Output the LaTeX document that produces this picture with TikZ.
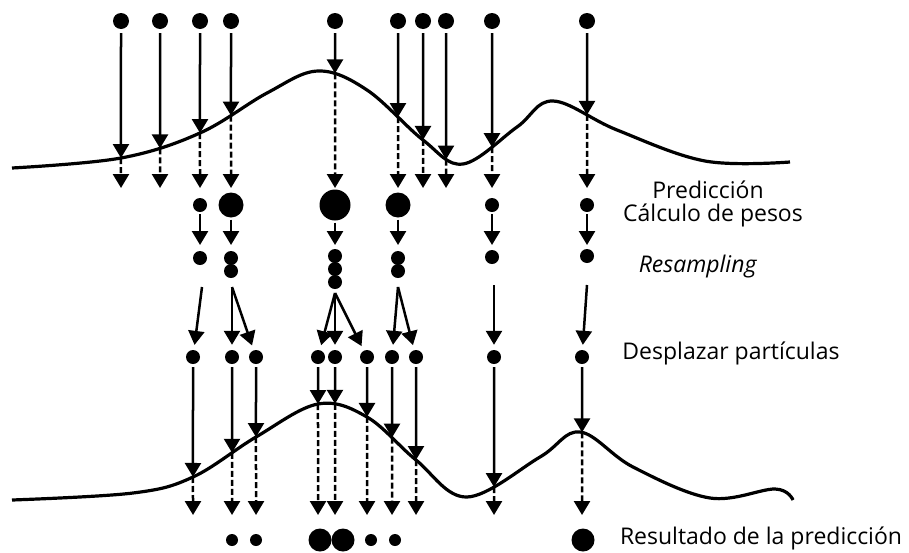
\documentclass[tikz,border=0pt]{standalone}
\usepackage{fontspec}
\setmainfont{Open Sans}
\usetikzlibrary{arrows.meta,intersections}

\begin{document}
\begin{tikzpicture}[x=1pt,y=-1pt,>={Triangle[length=14pt,width=16pt]},
		line join=round, font=\fontsize{23}{26}\selectfont,
		part/.style={circle,fill,inner sep=0pt,minimum size=#1}, part/.default=14pt,
		move/.style={->,line width=2.5pt},
		dashmove/.style={->,line width=2.5pt,dash pattern=on 6pt off 3pt},
		curve/.style={line width=3.2pt}]
	\useasboundingbox (0,0) rectangle (909,552);
	% densidad (arriba y abajo)
	\draw[curve,name path=upper] plot[smooth,tension=0.6] coordinates {(12,168) (121,158) (200,133) (267,93) (318,71) (367,90) (423,140) (463,164) (517,127) (553,101) (617,130) (705,161) (790,162)};
	\draw[curve,name path=lower] plot[smooth,tension=0.6] coordinates {(12,500) (133,493) (193,477) (256,437) (318,404) (367,417) (416,460) (467,497) (540,457) (580,432) (633,467) (710,498) (775,489) (793,500)};
	% particulas iniciales -> prediccion
	\foreach \x [count=\i] in {121,160,200,231,335,398,423,446,492,587}{
		\node[part=16pt] (t\i) at (\x,21) {};
		\path[name path=v\i] (\x,0) -- (\x,250);
		\path[name intersections={of=upper and v\i, by=u\i}];
		\coordinate (e\i) at (\x,188);
		\draw[move,shorten <=4pt] (t\i) -- (u\i);
		\draw[dashmove] (u\i) -- (e\i);
	}
	% calculo de pesos
	\foreach \x/\r [count=\i] in {200/14pt,231/25pt,335/31pt,398/25pt,492/14pt,587/14pt}{
		\node[part=\r] (w\i) at (\x,205) {};
		\coordinate (g\i) at (\x,245);
		\draw[move,shorten <=2pt] (w\i) -- (g\i);
	}
	% resampling
	\foreach \x/\y [count=\i] in {200/258,231/258,231/271,335/256,335/269,335/282,398/258,398/271,492/257,587/256}
		\node[part] (r\i) at (\x,\y) {};
	\coordinate (s1) at (202,287); \coordinate (s2) at (232,287);
	\coordinate (s3) at (335,293); \coordinate (s4) at (398,287);
	\coordinate (s5) at (494,285); \coordinate (s6) at (587,285);
	% desplazar particulas -> prediccion
	\foreach \x [count=\i] in {193,232,256,318,335,367,392,416,494,582}{
		\node[part] (d\i) at (\x,357) {};
		\path[name path=h\i] (\x,300) -- (\x,552);
		\path[name intersections={of=lower and h\i, by=l\i}];
		\coordinate (f\i) at (\x,515);
		\draw[move,shorten <=3pt] (d\i) -- (l\i);
		\draw[dashmove] (l\i) -- (f\i);
	}
	\foreach \a/\b in {1/1,2/2,2/3,3/4,3/5,3/6,4/7,4/8,5/9,6/10}
		\draw[move,shorten >=5pt] (s\a) -- (d\b);
	% resultado
	\foreach \x/\r [count=\i] in {232/12pt,256/12pt,320/23pt,343/23pt,371/12pt,395/12pt,583/23pt}
		\node[part=\r] (p\i) at (\x,540) {};
	% textos
	\node (lpred) at (708,190) {Predicción};
	\node (lcalc) at (713,215) {Cálculo de pesos};
	\node (lres) at (698,267) {\textit{Resampling}};
	\node (ldesp) at (731,353) {Desplazar partículas};
	\node (lresu) at (761,538) {Resultado de la predicción};
\end{tikzpicture}
\end{document}
